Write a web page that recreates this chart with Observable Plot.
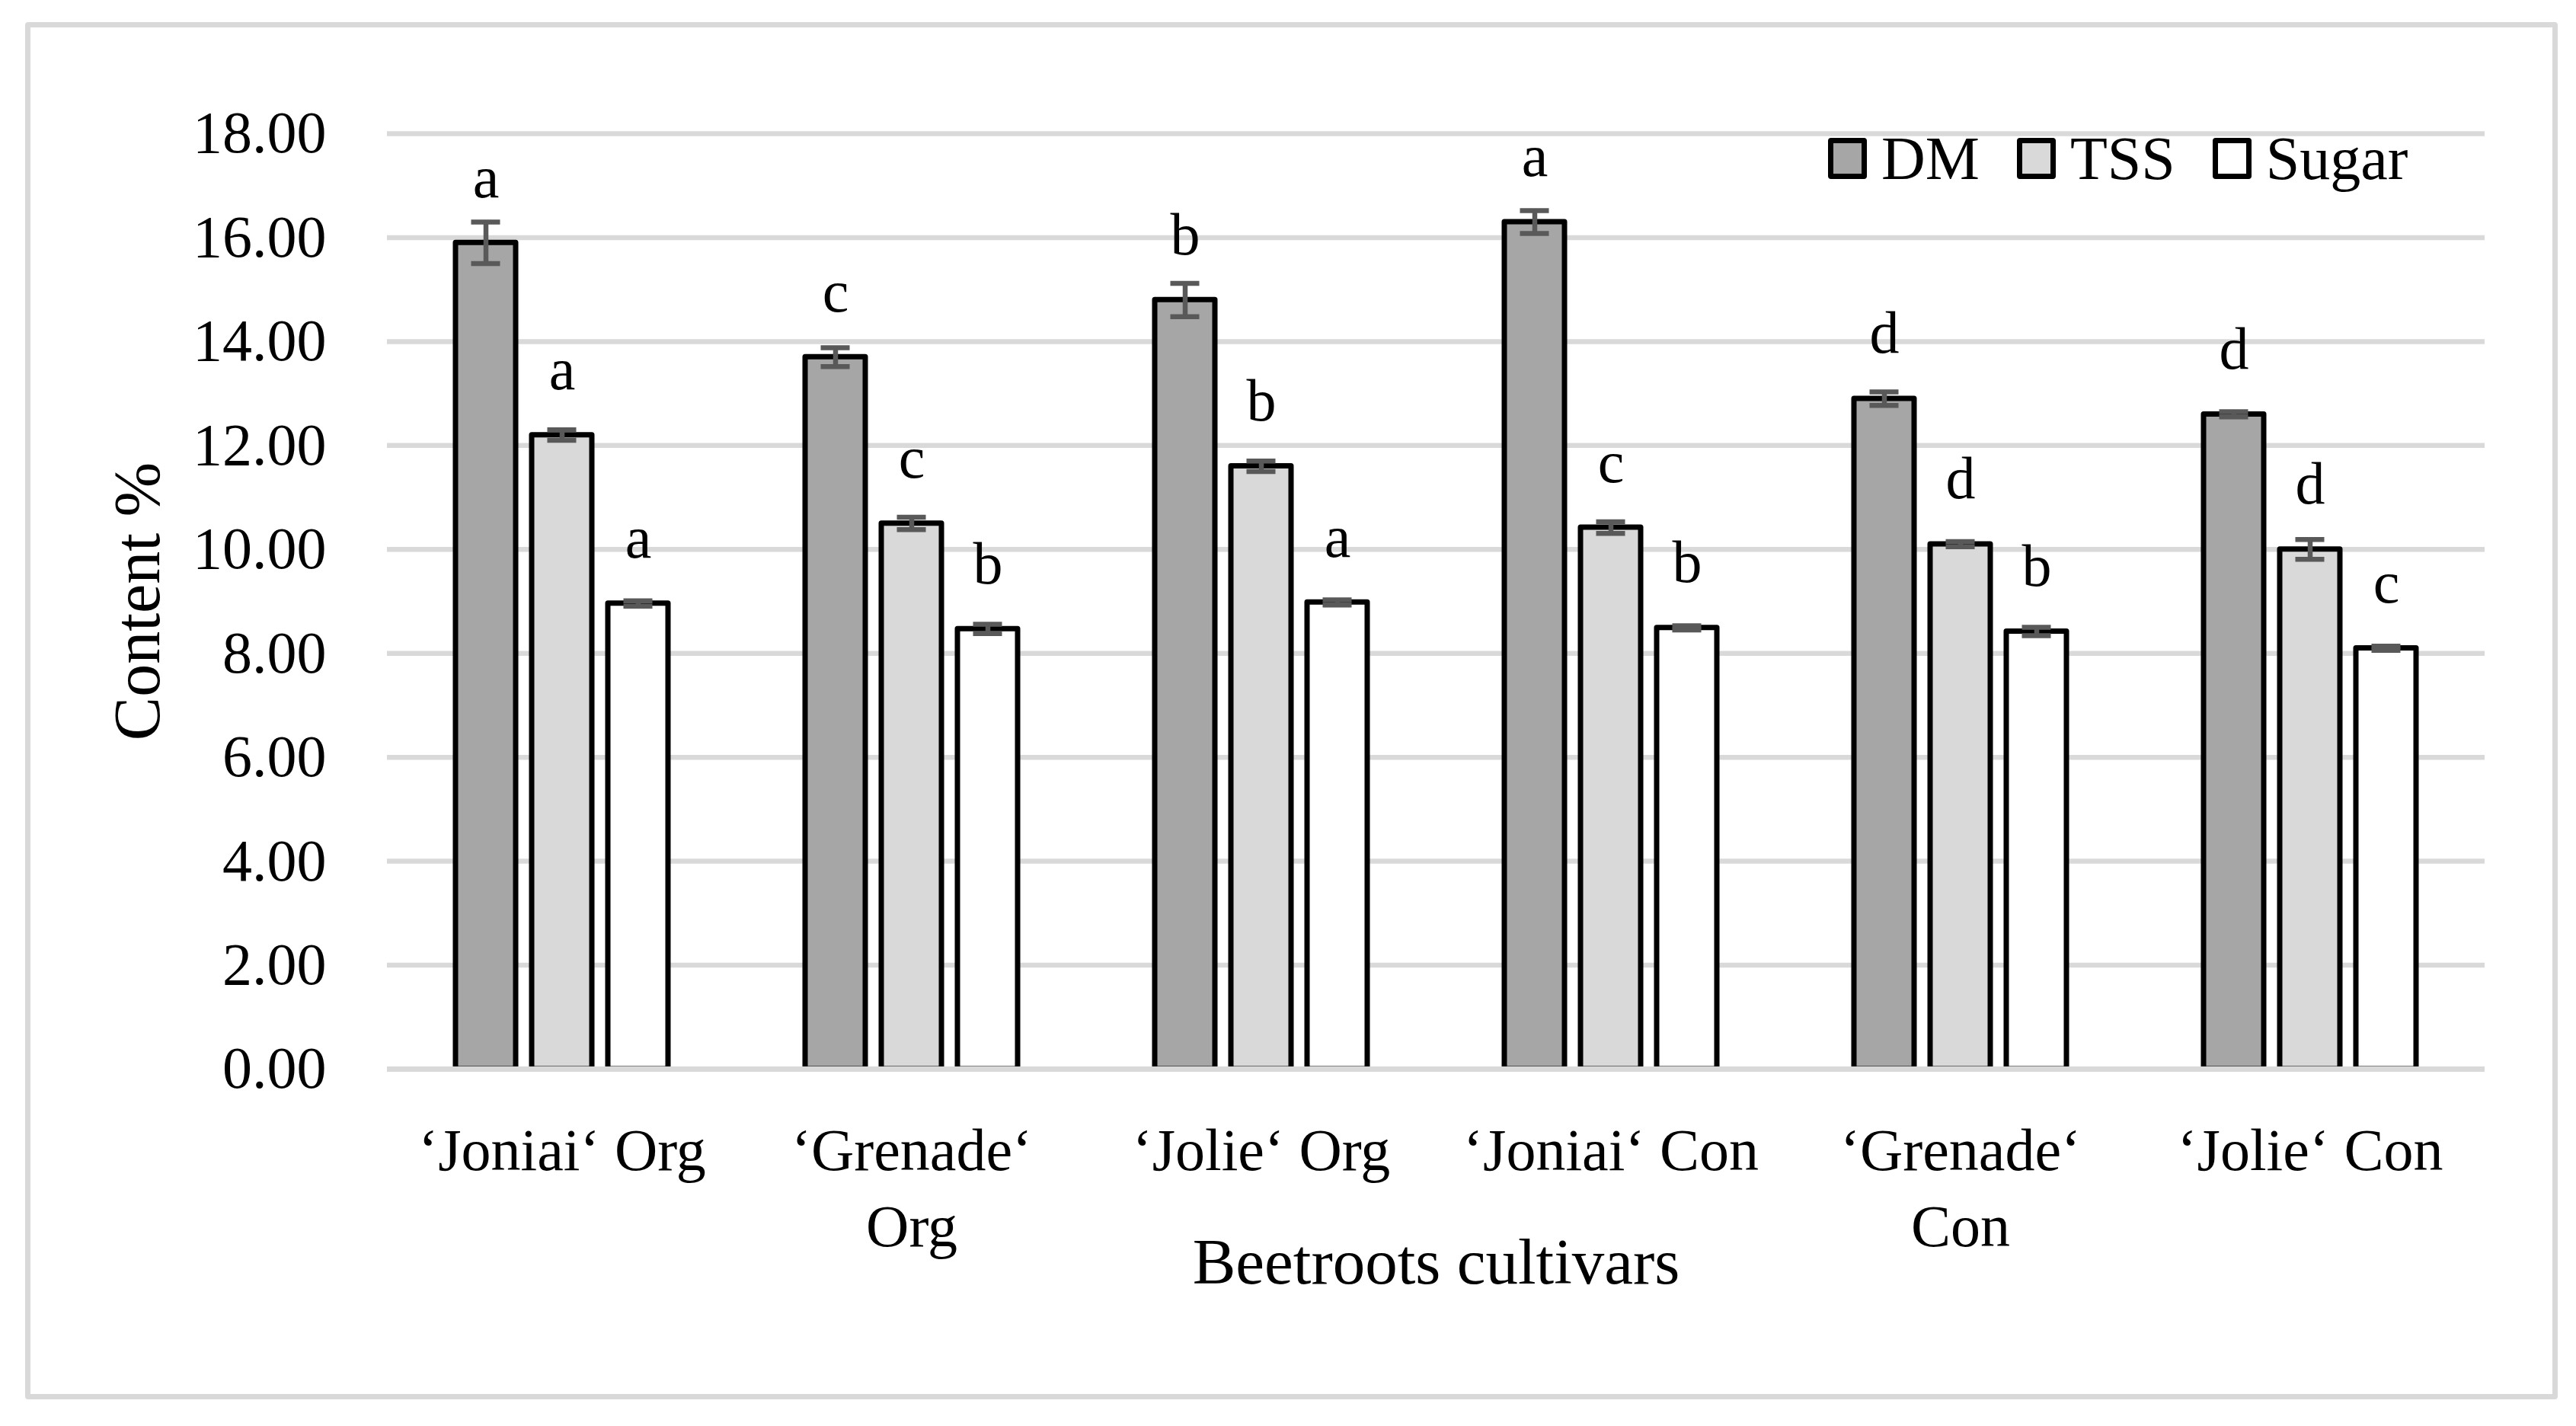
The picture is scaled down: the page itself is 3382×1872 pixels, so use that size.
<!DOCTYPE html>
<html>
<head>
<meta charset="utf-8">
<script src="https://cdn.jsdelivr.net/npm/d3@7"></script>
<script src="https://cdn.jsdelivr.net/npm/@observablehq/plot@0.6"></script>
<style>
  html, body { margin: 0; padding: 0; background: #fff; }
  #wrap { position: relative; width: 3382px; height: 1872px; font-family: "Liberation Serif", serif; color: #000; overflow: hidden; }
  #frame { position: absolute; left: 33px; top: 29px; width: 3325px; height: 1808px; box-sizing: border-box; border: 7px solid #d9d9d9; border-radius: 4px; }
  #chart { position: absolute; left: 0; top: 0; }
  #legend { position: absolute; left: 2400px; top: 168px; display: flex; align-items: center; font-size: 80px; line-height: 80px; }
  .item { display: flex; align-items: center; margin-right: 49px; }
  .sw { display: inline-block; width: 51px; height: 54px; box-sizing: border-box; border: 7px solid #000; border-radius: 4px; margin-right: 19px; }
</style>
</head>
<body>
<div id="wrap">
  <div id="frame"></div>
  <div id="chart"></div>
  <div id="legend"></div>
</div>
<script>
// ---- data ----
const groups = ["‘Joniai‘ Org", "‘Grenade‘ Org", "‘Jolie‘ Org", "‘Joniai‘ Con", "‘Grenade‘ Con", "‘Jolie‘ Con"];
const groupLabels = ["‘Joniai‘ Org", "‘Grenade‘\nOrg", "‘Jolie‘ Org", "‘Joniai‘ Con", "‘Grenade‘\nCon", "‘Jolie‘ Con"];
const series = ["DM", "TSS", "Sugar"];
const seriesColors = ["#a6a6a6", "#d9d9d9", "#ffffff"];

const dm       = [15.9, 13.7, 14.8, 16.3, 12.9, 12.6];
const dmErr    = [0.40, 0.18, 0.32, 0.22, 0.13, 0.05];
const dmLetter = ["a", "c", "b", "a", "d", "d"];

const tss       = [12.2, 10.5, 11.6, 10.42, 10.1, 10.0];
const tssErr    = [0.10, 0.12, 0.10, 0.11, 0.05, 0.19];
const tssLetter = ["a", "c", "b", "c", "d", "d"];

const sugar       = [8.96, 8.47, 8.98, 8.49, 8.42, 8.1];
const sugarErr    = [0.05, 0.09, 0.05, 0.04, 0.08, 0.04];
const sugarLetter = ["a", "b", "a", "b", "b", "c"];

const yTicks = [0, 2, 4, 6, 8, 10, 12, 14, 16, 18];
const yTitle = "Content %";
const xTitle = "Beetroots cultivars";

// ---- table for the library ----
const values = [dm, tss, sugar];
const errors = [dmErr, tssErr, sugarErr];
const letters = [dmLetter, tssLetter, sugarLetter];
const data = [];
groups.forEach((g, i) => {
  series.forEach((s, j) => {
    data.push({group: g, series: s, value: values[j][i], err: errors[j][i], letter: letters[j][i]});
  });
});
const labelOf = new Map(groups.map((g, i) => [g, groupLabels[i]]));

const errStroke = "#595959";
const chart = Plot.plot({
  width: 3382,
  height: 1872,
  marginLeft: 505,
  marginRight: 118,
  marginTop: 175,
  marginBottom: 469,
  style: {fontFamily: '"Liberation Serif", serif', fontSize: "78px", background: "transparent", color: "#000"},
  fx: {domain: groups, padding: 0, align: 0.5, axis: null},
  x: {domain: series, paddingInner: 0.21, paddingOuter: 0.88, axis: null},
  y: {domain: [0, 18], axis: null},
  color: {domain: series, range: seriesColors},
  marks: [
    Plot.gridY(yTicks, {stroke: "#d9d9d9", strokeOpacity: 1, strokeWidth: 6.5}),
    Plot.barY(data, {fx: "group", x: "series", y: "value", fill: "series", stroke: "#000", strokeWidth: 7, strokeLinejoin: "round"}),
    Plot.ruleY([0], {stroke: "#d9d9d9", strokeWidth: 7}),
    Plot.ruleX(data, {fx: "group", x: "series", y1: d => d.value - d.err, y2: d => d.value + d.err, stroke: errStroke, strokeWidth: 6.5}),
    Plot.tickY(data, {fx: "group", x: "series", y: d => d.value - d.err, stroke: errStroke, strokeWidth: 6.5, insetLeft: 20.5, insetRight: 20.5}),
    Plot.tickY(data, {fx: "group", x: "series", y: d => d.value + d.err, stroke: errStroke, strokeWidth: 6.5, insetLeft: 20.5, insetRight: 20.5}),
    Plot.text(data, {fx: "group", x: "series", y: "value", text: "letter", lineAnchor: "bottom", dy: -60, fontSize: 78, fill: "#000"}),
    Plot.axisY(yTicks, {tickSize: 0, tickPadding: 80, tickFormat: d3.format(".2f"), label: null, fontSize: 78}),
    Plot.axisY({ticks: [], label: yTitle, labelAnchor: "center", labelArrow: "none", labelOffset: 361, fontSize: 86}),
    Plot.axisFx({anchor: "bottom", tickSize: 0, tickPadding: 62, tickFormat: g => labelOf.get(g), lineHeight: 1.28, label: null, fontSize: 78}),
    Plot.axisFx({anchor: "bottom", ticks: [], label: xTitle, labelAnchor: "center", labelArrow: "none", labelOffset: 281, fontSize: 85})
  ]
});
document.getElementById("chart").appendChild(chart);

// ---- legend ----
const legend = document.getElementById("legend");
series.forEach((s, j) => {
  const item = document.createElement("div");
  item.className = "item";
  const sw = document.createElement("span");
  sw.className = "sw";
  sw.style.background = seriesColors[j];
  const t = document.createElement("span");
  t.textContent = s;
  item.appendChild(sw);
  item.appendChild(t);
  legend.appendChild(item);
});
</script>
</body>
</html>
